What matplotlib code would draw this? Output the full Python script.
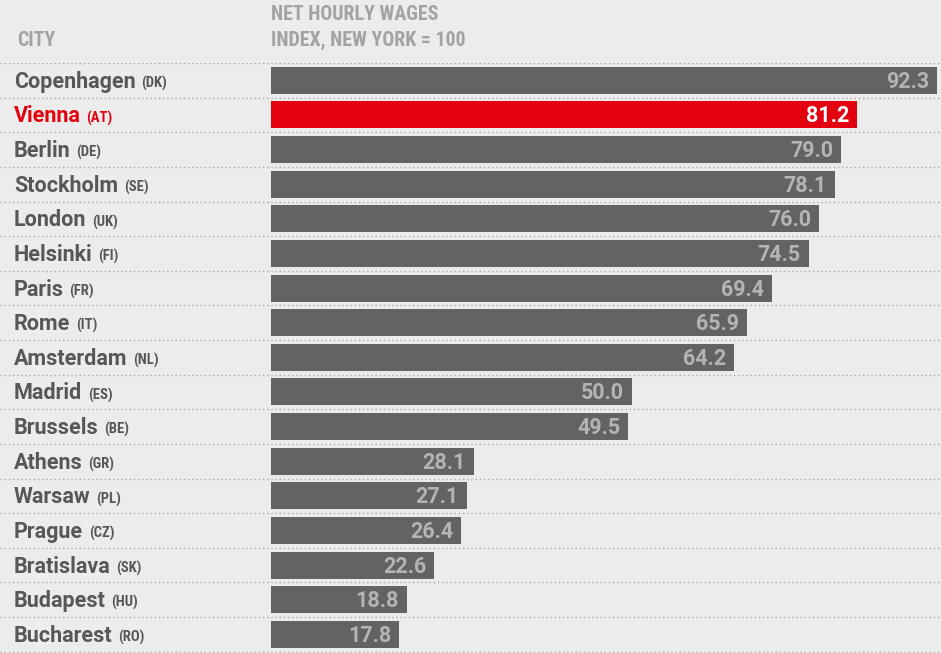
import matplotlib
matplotlib.use("Agg")
import matplotlib.pyplot as plt

cities = ["Copenhagen", "Vienna", "Berlin", "Stockholm", "London", "Helsinki",
          "Paris", "Rome", "Amsterdam", "Madrid", "Brussels", "Athens",
          "Warsaw", "Prague", "Bratislava", "Budapest", "Bucharest"]
codes = ["DK", "AT", "DE", "SE", "UK", "FI", "FR", "IT", "NL", "ES", "BE",
         "GR", "PL", "CZ", "SK", "HU", "RO"]
wages = [92.3, 81.2, 79.0, 78.1, 76.0, 74.5, 69.4, 65.9, 64.2, 50.0, 49.5,
         28.1, 27.1, 26.4, 22.6, 18.8, 17.8]
highlight = "Vienna"

BG = "#ececec"
GREY_BAR = "#636362"
RED = "#e3000f"
NAME_COL = "#575757"
HEAD_COL = "#a3a3a3"
VAL_COL = "#b4b4b4"

main = ["Roboto", "DejaVu Sans"]
narrow = ["Roboto Condensed", "DejaVu Sans"]

W, H = 941, 653
fig = plt.figure(figsize=(W / 100, H / 100), dpi=100, facecolor=BG)

# axes span the full width, rows start at the first dotted line
top_px = 63
row_px = 34.625
ax = fig.add_axes([0, 0, 1, 1 - top_px / H])
ax.set_facecolor(BG)

bar_x0_px = 271
px_per_unit = (937 - bar_x0_px) / wages[0]
ax.set_xlim(-bar_x0_px / px_per_unit, (W - bar_x0_px) / px_per_unit)
n_rows = (H - top_px) / row_px
ax.set_ylim(n_rows - 0.5, -0.5)
ax.axis("off")

ypos = list(range(len(cities)))
colors = [RED if c == highlight else GREY_BAR for c in cities]
ax.barh(ypos, wages, height=0.78, color=colors, left=0)

# dotted separators across the whole width
for b in [i - 0.5 for i in range(len(cities) + 1)]:
    ax.axhline(b, color="#a8a8a8", lw=1.0, ls=(0, (1, 2)), zorder=0)

base = 7.5 / row_px  # baseline sits a little below the row centre
trans = ax.get_yaxis_transform()
for y, city, code, val in zip(ypos, cities, codes, wages):
    is_hl = city == highlight
    col = RED if is_hl else NAME_COL
    t = ax.text(14 / W, y + base, city, transform=trans, ha="left", va="baseline",
                fontsize=15.5, fontweight="bold", color=col, family=main)
    ax.annotate("(" + code + ")", xy=(1, y + base), xycoords=(t, "data"),
                xytext=(4, 0), textcoords="offset points", ha="left",
                va="baseline", fontsize=10.5, fontweight="bold", color=col,
                family=narrow)
    ax.text(val - 8 / px_per_unit, y + base, f"{val:.1f}", ha="right",
            va="baseline", fontsize=15.5, fontweight="bold",
            color="white" if is_hl else VAL_COL, family=main)

head = dict(ha="left", va="center", fontsize=14.3, fontweight="bold",
            color=HEAD_COL, family=narrow)
fig.text(17 / W, 1 - 40 / H, "CITY", **head)
fig.text(bar_x0_px / W, 1 - 14.5 / H, "NET HOURLY WAGES", **head)
fig.text(bar_x0_px / W, 1 - 40 / H, "INDEX, NEW YORK = 100", **head)

fig.savefig("out.png", dpi=100, facecolor=BG)
